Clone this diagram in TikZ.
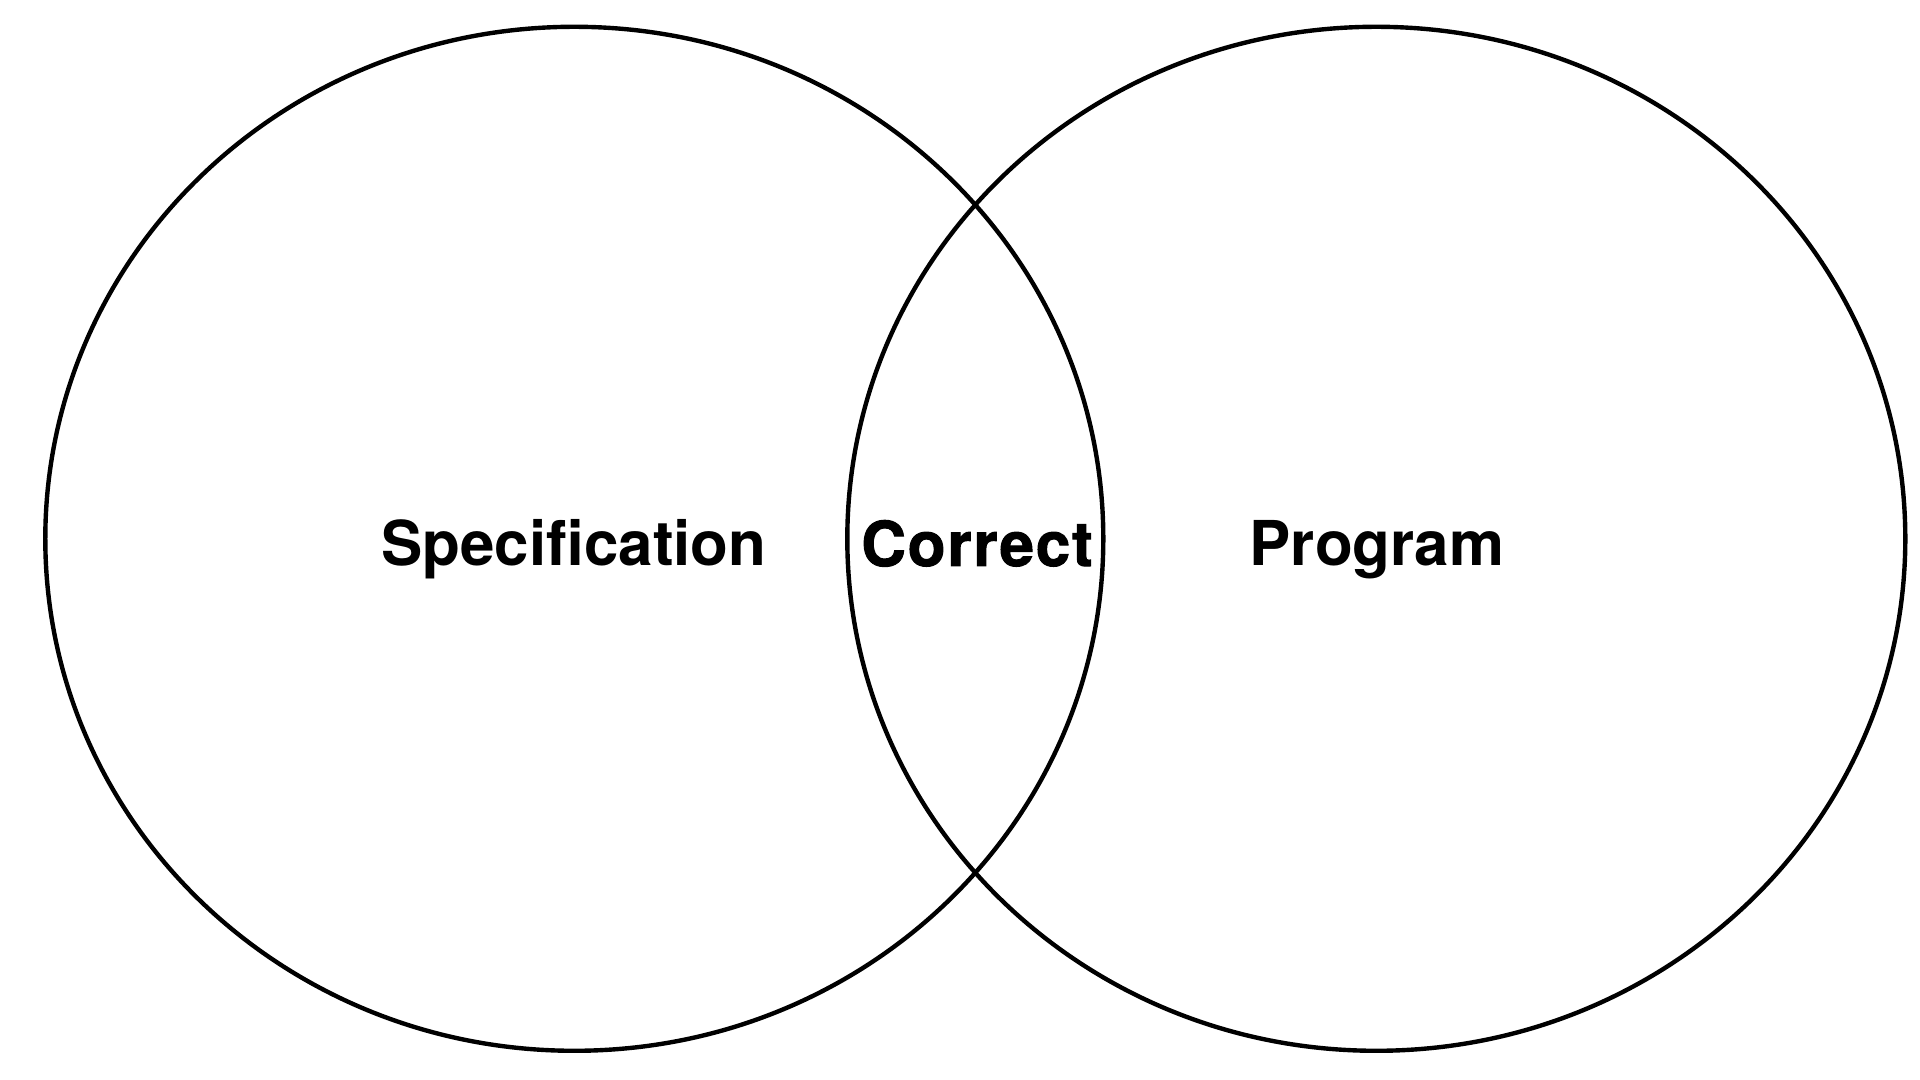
\documentclass[tikz,border=0pt]{standalone}
\usepackage{fontspec}
\setmainfont{TeX Gyre Heros}
\newfontfamily\heavyfont[FakeBold=1.6, LetterSpace=3]{TeX Gyre Heros Bold}
\usepackage{tikz}

\begin{document}
\begin{tikzpicture}
\useasboundingbox (0,0) rectangle (19.2,10.8);
\tikzset{setlabel/.style={font=\fontsize{17.6}{20}\selectfont\bfseries, inner sep=0pt, anchor=base}}
\foreach \cx in {5.743,13.763} {
\draw[line width=1.25pt] (\cx,5.412) ellipse [x radius=5.29, y radius=5.12];
}
\node[setlabel] (spec) at (5.74, 5.14) {Specification};
\node[setlabel, font=\fontsize{17.6}{20}\heavyfont] (correct) at (9.77, 5.14) {Correct};
\node[setlabel] (prog) at (13.77, 5.14) {Program};
\end{tikzpicture}
\end{document}
